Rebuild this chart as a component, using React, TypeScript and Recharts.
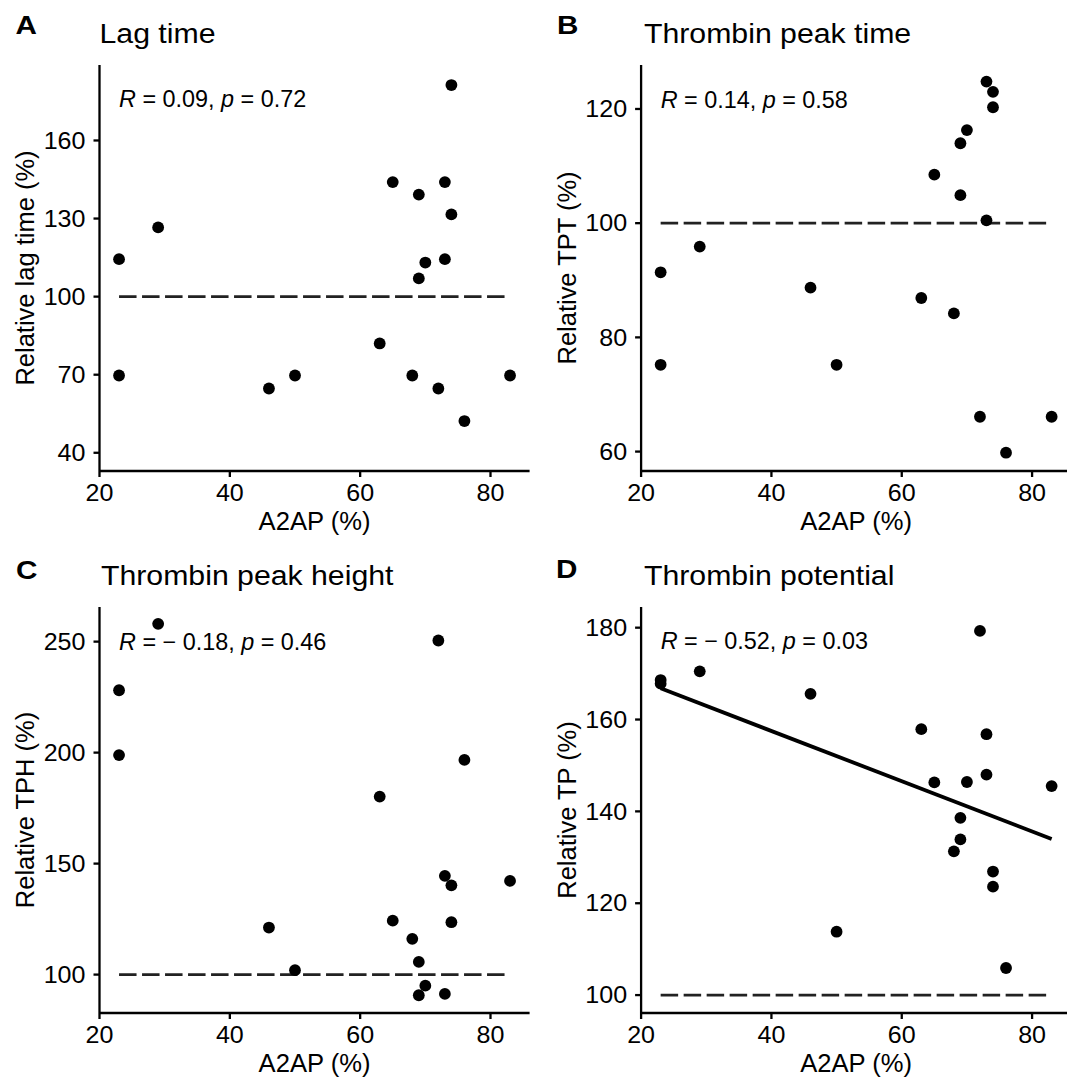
import React from 'react';
import { ScatterChart, Scatter, XAxis, YAxis, ReferenceLine, ReferenceDot } from 'recharts';

const FONT = '"Liberation Sans", Arial, Helvetica, sans-serif';

// A2AP (%) for the 18 patients, same order in every panel
const a2ap = [23, 23, 29, 46, 50, 63, 65, 68, 69, 69, 70, 72, 73, 73, 74, 74, 76, 83];

const lagTime = [114.4, 69.7, 126.6, 64.7, 69.7, 82, 144, 69.7, 139.2, 107, 113.1, 64.7, 144, 114.4, 131.6, 181.3, 52.2, 69.7];
const peakTime = [91.4, 75.2, 95.9, 88.7, 75.2, 86.9, 108.5, 84.2, 114, 104.9, 116.3, 66.1, 124.8, 100.5, 123, 120.3, 59.8, 66.1];
const peakHeight = [228.1, 198.9, 258, 121.2, 102, 180.2, 124.3, 116.1, 105.7, 90.7, 95, 250.5, 144.5, 91.3, 140.2, 123.6, 196.7, 142.2];
const potential = [168.6, 167.8, 170.5, 165.6, 113.8, 157.9, 146.3, 131.3, 138.6, 133.9, 146.4, 179.3, 156.8, 148, 126.9, 123.6, 105.9, 145.5];

const fitLineD = [{ x: 23, y: 166.8 }, { x: 83, y: 134.0 }];

const xTicks = [20, 40, 60, 80];
const refLevel = 100;

const panels = [
  {
    letter: 'A', yLabel: 'Relative lag time (%)', values: lagTime,
    yDomain: [33, 189], yTicks: [40, 70, 100, 130, 160], stat: { y: 176.1, r: '0.09', p: '0.72' },
    left: 0, top: 0, yAxisWidth: 99.5, yTitleX: 24.6, fit: null,
  },
  {
    letter: 'B', yLabel: 'Relative TPT (%)', values: peakTime,
    yDomain: [56.6, 127.7], yTicks: [60, 80, 100, 120], stat: { y: 121.7, r: '0.14', p: '0.58' },
    left: 533, top: 0, yAxisWidth: 108.1, yTitleX: 34.4, fit: null,
  },
  {
    letter: 'C', yLabel: 'Relative TPH (%)', values: peakHeight,
    yDomain: [82.7, 265.6], yTicks: [100, 150, 200, 250], stat: { y: 250, r: '\u2212 0.18', p: '0.46' },
    left: 0, top: 542, yAxisWidth: 99.5, yTitleX: 24.6, fit: null,
  },
  {
    letter: 'D', yLabel: 'Relative TP (%)', values: potential,
    yDomain: [96.1, 184.5], yTicks: [100, 120, 140, 160, 180], stat: { y: 177.1, r: '\u2212 0.52', p: '0.03' },
    left: 533, top: 542, yAxisWidth: 108.1, yTitleX: 34.4, fit: fitLineD,
  },
];

const titles = [
  { letter: 'A', lx: 15.5, ly: 34, title: 'Lag time', tx: 99.5, ty: 42.5 },
  { letter: 'B', lx: 557, ly: 34, title: 'Thrombin peak time', tx: 644, ty: 42.5 },
  { letter: 'C', lx: 16, ly: 579, title: 'Thrombin peak height', tx: 101, ty: 585 },
  { letter: 'D', lx: 556, ly: 578, title: 'Thrombin potential', tx: 644, ty: 585 },
];

const PLOT_W = 430.1;
const PLOT_H = 406;
const CHART_H = 540;

const TICK_FS = 23;
const TICK_SX = 1.09;

const axisStyle = { stroke: '#000', strokeWidth: 2.3 };

function Dot(props: any) {
  const { cx, cy } = props;
  if (cx == null || cy == null) return null;
  return <circle cx={cx} cy={cy} r={5.9} fill="#000" />;
}

function XTick(props: any) {
  const { x, y, payload } = props;
  return (
    <g transform={`translate(${x},${y + TICK_FS * 0.716})`}>
      <text transform={`scale(${TICK_SX},1)`} textAnchor="middle" fontSize={TICK_FS} fontFamily={FONT} fill="#000">
        {payload.value}
      </text>
    </g>
  );
}

function YTick(props: any) {
  const { x, y, payload } = props;
  return (
    <g transform={`translate(${x},${y + TICK_FS * 0.358})`}>
      <text transform={`scale(${TICK_SX},1)`} textAnchor="end" fontSize={TICK_FS} fontFamily={FONT} fill="#000">
        {payload.value}
      </text>
    </g>
  );
}

function XTitle(props: any) {
  const vb = props.viewBox || props;
  return (
    <text x={vb.x + vb.width / 2} y={vb.y + 59} textAnchor="middle" fontSize={25.6} fontFamily={FONT} fill="#000">
      A2AP (%)
    </text>
  );
}

function makeYTitle(text: string, cx: number) {
  return (props: any) => {
    const vb = props.viewBox || props;
    const cy = vb.y + vb.height / 2;
    return (
      <text
        x={cx}
        y={cy}
        transform={`rotate(-90, ${cx}, ${cy})`}
        textAnchor="middle"
        dominantBaseline="central"
        fontSize={25.5}
        fontFamily={FONT}
        fill="#000"
      >
        {text}
      </text>
    );
  };
}

function makeStat(r: string, p: string) {
  return (props: any) => {
    const vb = props.viewBox || props;
    return (
      <text x={vb.x} y={vb.y + 8.3} fontSize={23.4} fontFamily={FONT} fill="#000">
        <tspan fontStyle="italic">R</tspan>
        {` = ${r}, `}
        <tspan fontStyle="italic">p</tspan>
        {` = ${p}`}
      </text>
    );
  };
}

function Panel({ cfg }: { cfg: (typeof panels)[number] }) {
  const data = a2ap.map((x, i) => ({ x, y: cfg.values[i] }));
  const width = cfg.yAxisWidth + PLOT_W + 2;
  return (
    <div style={{ position: 'absolute', left: cfg.left, top: cfg.top }}>
      <ScatterChart
        width={width}
        height={CHART_H}
        margin={{ top: 65, right: 2, left: 0, bottom: CHART_H - 65 - PLOT_H - 50 }}
      >
        <XAxis
          type="number"
          dataKey="x"
          domain={[20, 86]}
          ticks={xTicks}
          allowDataOverflow
          height={50}
          axisLine={axisStyle}
          tickLine={axisStyle}
          tickSize={6}
          tickMargin={8}
          tick={XTick}
          label={XTitle}
        />
        <YAxis
          type="number"
          dataKey="y"
          domain={cfg.yDomain}
          ticks={cfg.yTicks}
          allowDataOverflow
          width={cfg.yAxisWidth}
          axisLine={axisStyle}
          tickLine={axisStyle}
          tickSize={6}
          tickMargin={8}
          tick={YTick}
          label={makeYTitle(cfg.yLabel, cfg.yTitleX)}
        />
        <ReferenceLine
          segment={[{ x: 23, y: refLevel }, { x: 83, y: refLevel }]}
          stroke="#222"
          strokeWidth={2.7}
          strokeDasharray="17.5 5.5"
        />
        {cfg.fit && (
          <ReferenceLine segment={cfg.fit} stroke="#000" strokeWidth={3.8} />
        )}
        <Scatter data={data} shape={Dot} isAnimationActive={false} />
        <ReferenceDot x={23} y={cfg.stat.y} r={0} fill="none" stroke="none" label={makeStat(cfg.stat.r, cfg.stat.p)} />
      </ScatterChart>
    </div>
  );
}

export default function App() {
  return (
    <div
      style={{
        position: 'absolute', left: 0, top: 0, width: 1067, height: 1080,
        overflow: 'hidden', background: '#fff', fontFamily: FONT,
      }}
    >
      {panels.map((p) => (
        <Panel key={p.letter} cfg={p} />
      ))}
      <svg width={1067} height={1080} style={{ position: 'absolute', left: 0, top: 0, pointerEvents: 'none' }}>
        {titles.map((t) => (
          <g key={t.letter}>
            <g transform={`translate(${t.lx},${t.ly})`}>
              <text transform="scale(1.12,1)" fontSize={26.5} fontWeight="bold" fontFamily={FONT} fill="#000">{t.letter}</text>
            </g>
            <g transform={`translate(${t.tx},${t.ty})`}>
              <text transform="scale(1.1,1)" fontSize={27.5} fontFamily={FONT} fill="#000">{t.title}</text>
            </g>
          </g>
        ))}
      </svg>
    </div>
  );
}
